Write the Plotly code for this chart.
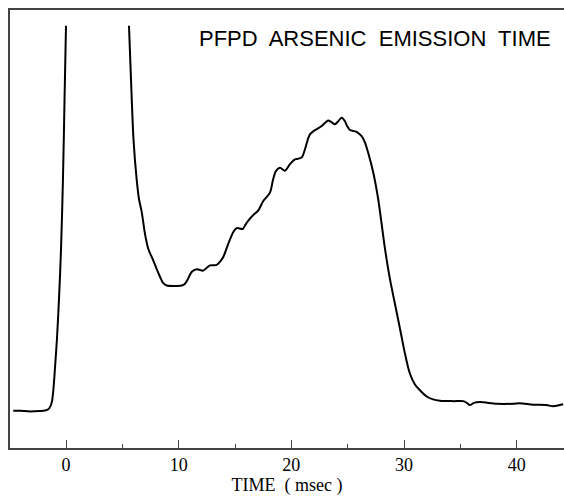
import plotly.graph_objects as go

# first (off-scale) peak, leading baseline
t_rise = [-4.68, -4.08, -3.19, -2.31, -1.86, -1.57, -1.38, -1.24, -1.11, -0.98,
          -0.80, -0.62, -0.44, -0.27, -0.13, 0.0]
s_rise = [8.48, 8.5, 8.34, 8.45, 8.57, 8.86, 9.55, 10.7, 13.6, 18.2,
          25.0, 34.1, 45.5, 61.4, 79.5, 96.4]

# arsenic emission after the second off-scale peak
t_emis = [5.59, 5.77, 5.99, 6.27, 6.48, 6.72, 7.01, 7.30, 7.75, 8.07, 8.34, 8.61, 8.94,
          9.58, 10.27, 10.56, 10.83, 11.15, 11.60, 12.18, 12.47, 12.78, 13.37, 13.66,
          13.96, 14.37, 14.85, 15.15, 15.68, 15.93, 16.18, 16.62, 17.06, 17.51, 18.10,
          18.39, 18.63, 18.99, 19.43, 19.88, 20.32, 20.91, 21.21, 21.47, 21.65, 21.94,
          22.27, 22.69, 22.98, 23.27, 23.56, 23.87, 24.13, 24.46, 24.76, 24.93, 25.20,
          25.79, 26.24, 26.53, 26.82, 27.27, 27.71, 28.31, 28.75, 29.19, 29.64, 30.08,
          30.52, 30.97, 31.41, 32.01, 32.57, 33.19, 34.37, 35.26, 35.58, 35.85, 36.20,
          36.74, 38.22, 39.69, 40.28, 41.47, 42.65, 43.24, 44.13]
s_emis = [96.4, 84.1, 70.5, 61.4, 56.8, 53.9, 48.9, 45.5, 42.8, 40.7, 39.1, 37.7, 37.1,
          37.0, 37.1, 37.5, 38.6, 40.2, 40.8, 40.5, 41.1, 41.7, 41.8, 42.5,
          43.6, 46.4, 49.3, 50.2, 50.0, 51.0, 51.9, 53.2, 54.2, 56.4, 58.3,
          61.4, 63.2, 64.0, 63.3, 64.8, 65.9, 66.3, 68.2, 70.5, 71.6, 72.3,
          72.8, 73.5, 74.2, 74.8, 74.4, 73.9, 74.5, 75.4, 74.6, 73.6, 72.6,
          72.2, 71.2, 69.8, 67.4, 62.9, 56.8, 45.5, 38.6, 33.0, 27.3, 21.6,
          17.0, 14.5, 13.2, 11.75, 11.1, 10.8, 10.7, 10.7, 10.3, 9.8, 10.3,
          10.5, 10.1, 10.1, 10.2, 9.9, 9.8, 9.55, 10.0]

tick_vals = [0, 10, 20, 30, 40]

fig = go.Figure()
for xs, ys in [(t_rise, s_rise), (t_emis, s_emis)]:
    fig.add_trace(go.Scatter(x=xs, y=ys, mode='lines',
                             line=dict(color='black', width=2, shape='spline', smoothing=0.8),
                             showlegend=False, hoverinfo='skip'))

fig.add_annotation(
    text='PFPD\u00a0 ARSENIC\u00a0 EMISSION\u00a0 TIME',
    xref='paper', yref='paper', x=0.980, y=0.934,
    xanchor='right', yanchor='middle', showarrow=False,
    font=dict(family='Liberation Sans, Arial', size=22, color='black'),
)

fig.update_layout(
    width=564, height=496,
    margin=dict(l=10, r=0, t=10, b=46),
    plot_bgcolor='white', paper_bgcolor='white',
    font=dict(family='Liberation Serif, Times New Roman, serif', size=18, color='black'),
    xaxis=dict(
        range=[-4.97, 44.2], showgrid=False, zeroline=False,
        showline=True, linecolor='#444', linewidth=1.5, mirror=True,
        ticks='inside', ticklen=8, tickcolor='#444', tickwidth=1,
        tickvals=tick_vals,
        minor=dict(ticks='inside', ticklen=4, dtick=5, tickcolor='#444', showgrid=False),
        title=dict(text='TIME\u00a0 ( msec )', standoff=8,
                   font=dict(family='Liberation Serif, Times New Roman, serif', size=18)),
    ),
    yaxis=dict(
        range=[0, 100], showgrid=False, zeroline=False, showticklabels=False,
        showline=True, linecolor='#444', linewidth=1.5, ticks='',
    ),
)

# page margin off so the figure fills the 564x496 window
fig.write_html('out.html', config={'displayModeBar': False},
               post_script="document.body.style.margin='0';document.body.style.overflow='hidden';")
